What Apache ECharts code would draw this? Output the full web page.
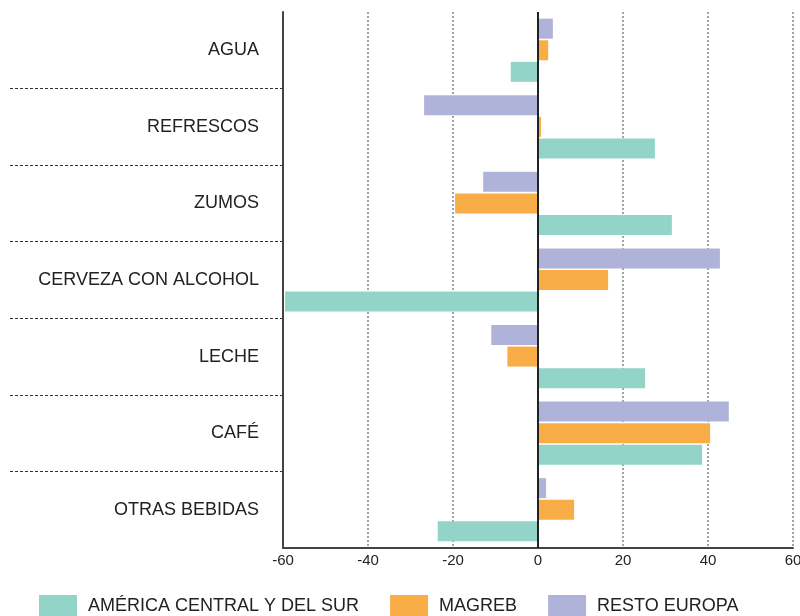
<!DOCTYPE html>
<html><head><meta charset="utf-8">
<script src="https://cdn.jsdelivr.net/npm/echarts@6/dist/echarts.min.js"></script>
<style>html,body{margin:0;padding:0;background:#fff}#c{width:800px;height:616px}</style>
</head><body><div id="c"></div>
<script>
const categories = ['AGUA', 'REFRESCOS', 'ZUMOS', 'CERVEZA CON ALCOHOL', 'LECHE', 'CAFÉ', 'OTRAS BEBIDAS'];
const seriesNames = ['AMÉRICA CENTRAL Y DEL SUR', 'MAGREB', 'RESTO EUROPA'];
const americaValues = [-6.4, 27.5, 31.5, -59.5, 25.2, 38.6, -23.6];
const magrebValues = [2.4, 0.7, -19.5, 16.5, -7.2, 40.5, 8.5];
const restoEuropaValues = [3.5, -26.8, -12.9, 42.8, -11.0, 44.9, 1.9];
const xTicks = { min: -60, max: 60, interval: 20 };

const colors = { america: '#93d4c9', magreb: '#f9ad46', resto: '#b0b3d9' };
const font = '"Liberation Sans", Arial, Helvetica, sans-serif';

const chart = echarts.init(document.getElementById('c'), null, { renderer: 'canvas' });

function barSeries(name, data, color, extra) {
  return Object.assign({
    name: name, type: 'bar', data: data,
    xAxisIndex: 0, yAxisIndex: 0,
    barWidth: 20, barGap: '8%',
    itemStyle: { color: color },
    emphasis: { disabled: true },
    animation: false
  }, extra || {});
}

chart.setOption({
  animation: false,
  textStyle: { fontFamily: font },
  legend: {
    data: seriesNames,
    left: 34, top: 590,
    itemWidth: 38, itemHeight: 22, itemGap: 31,
    icon: 'rect',
    textStyle: { fontSize: 18, color: '#222', fontFamily: font, padding: [0, 0, 0, 6] },
    selectedMode: false
  },
  grid: [
    { left: 283, right: 7, top: 12, bottom: 68, containLabel: false, outerBoundsMode: 'none' },
    { left: 10, right: 517, top: 12, bottom: 68, containLabel: false, outerBoundsMode: 'none' }
  ],
  xAxis: [
    {
      gridIndex: 0, type: 'value', min: xTicks.min, max: xTicks.max, interval: xTicks.interval,
      axisLine: { show: true, lineStyle: { color: '#444', width: 2 } },
      axisTick: { show: false },
      axisLabel: { fontSize: 15, color: '#222', margin: 5, fontFamily: font },
      splitLine: { show: true, showMinLine: false, lineStyle: { color: '#a3a3a3', width: 2, type: [2, 2] } }
    },
    { gridIndex: 1, type: 'value', show: false, min: 0, max: 1 }
  ],
  yAxis: [
    {
      gridIndex: 0, type: 'category', data: categories, inverse: true,
      axisLine: { show: true, onZero: false, lineStyle: { color: '#444', width: 2 } },
      axisTick: { show: false },
      axisLabel: { fontSize: 18, color: '#222', margin: 24, fontFamily: font },
      splitLine: { show: false }
    },
    {
      gridIndex: 1, type: 'category', data: categories, inverse: true,
      axisLine: { show: false }, axisTick: { show: false }, axisLabel: { show: false },
      splitLine: { show: true, showMinLine: false, showMaxLine: false, lineStyle: { color: '#333', width: 1, type: [3, 2] } }
    }
  ],
  series: [
    barSeries(seriesNames[2], restoEuropaValues, colors.resto, {
      markLine: {
        silent: true, symbol: 'none', label: { show: false },
        lineStyle: { color: '#222', width: 2, type: 'solid' },
        data: [{ xAxis: 0 }], animation: false
      }
    }),
    barSeries(seriesNames[1], magrebValues, colors.magreb),
    barSeries(seriesNames[0], americaValues, colors.america)
  ]
});
</script></body></html>
